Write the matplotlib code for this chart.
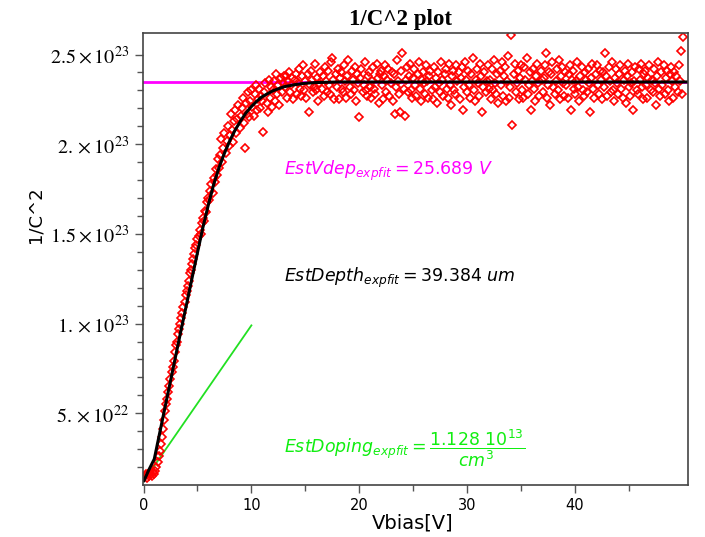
import matplotlib
matplotlib.use("Agg")
import matplotlib.pyplot as plt
import numpy as np

# bias sweep: first point and step (V)
bias_start = 0.1
bias_step = 0.1

# measured 1/C^2, in units of 1e22, ten points per volt
inv_c2 = [
    1.5, 1.6, 1.4, 1.6, 1.5, 1.7, 1.6, 1.5, 1.7, 1.6,
    1.8, 2.0, 2.3, 2.6, 2.9, 3.3, 3.7, 4.1, 4.6, 5.1,
    5.5, 5.8, 6.2, 6.5, 6.9, 7.3, 7.6, 7.9, 8.4, 8.8,
    9.0, 9.4, 9.7, 10.0, 10.3, 10.6, 10.9, 11.2, 11.6, 11.8,
    12.1, 12.4, 12.8, 13.0, 13.3, 13.6, 13.9, 14.2, 14.4, 14.7,
    14.9, 15.2, 15.0, 15.6, 15.9, 15.7, 16.3, 16.2, 16.8, 17.0,
    16.9, 17.4, 17.8, 17.3, 18.1, 17.9, 18.6, 18.3, 19.2, 18.7,
    19.4, 20.3, 19.0, 19.8, 20.6, 19.5, 20.2, 21.0, 19.9, 20.5,
    21.7, 20.8, 20.1, 21.3, 21.9, 20.6, 21.4, 22.2, 20.9, 21.6,
    22.0, 22.6, 21.2, 19.8, 22.3, 21.7, 22.9, 21.5, 22.4, 23.0,
    22.1, 21.6, 22.8, 23.3, 21.9, 22.5, 23.1, 22.0, 22.7, 22.4,
    20.7, 22.9, 23.4, 22.3, 21.8, 23.6, 22.6, 23.2, 22.1, 23.0,
    23.5, 22.4, 23.9, 22.8, 23.3, 22.2, 23.7, 22.9, 23.4, 23.8,
    23.2, 23.8, 22.6, 23.5, 24.0, 22.9, 23.3, 23.7, 22.5, 23.6,
    23.9, 22.8, 23.4, 24.2, 23.1, 22.7, 23.8, 24.4, 23.0, 23.5,
    22.6, 23.9, 21.8, 23.3, 24.1, 23.6, 22.9, 23.2, 24.5, 23.0,
    23.7, 22.4, 23.4, 24.0, 23.1, 23.8, 22.7, 24.3, 23.5, 22.9,
    24.1, 23.3, 22.8, 24.6, 24.8, 23.6, 22.5, 23.9, 23.2, 24.2,
    22.5, 23.7, 24.0, 23.1, 22.9, 24.4, 23.5, 22.6, 23.8, 24.7,
    23.2, 22.8, 24.1, 23.6, 23.0, 24.3, 22.4, 23.9, 23.4, 21.5,
    23.7, 24.2, 22.9, 23.3, 24.6, 23.0, 22.7, 23.8, 24.0, 23.2,
    22.6, 23.5, 24.3, 23.1, 22.8, 24.5, 23.7, 22.3, 23.9, 24.1,
    23.3, 22.5, 23.8, 24.4, 22.9, 23.6, 24.2, 22.7, 23.4, 24.0,
    22.4, 23.9, 21.7, 23.2, 24.7, 23.5, 22.8, 21.8, 24.1, 25.1,
    23.1, 21.6, 23.6, 24.3, 22.9, 23.8, 24.5, 23.0, 22.6, 23.7,
    24.2, 23.3, 22.7, 23.9, 24.6, 23.1, 22.4, 23.6, 24.0, 23.4,
    22.8, 24.4, 23.5, 22.6, 23.8, 24.1, 23.0, 22.5, 24.3, 23.2,
    23.7, 22.3, 24.0, 23.4, 22.9, 24.6, 23.6, 22.7, 23.9, 24.2,
    23.1, 22.6, 24.5, 23.3, 22.2, 23.8, 24.1, 23.0, 22.8, 24.4,
    23.5, 24.0, 22.5, 23.7, 24.3, 21.9, 23.2, 24.6, 23.6, 22.9,
    24.1, 23.3, 22.6, 23.9, 24.8, 23.0, 22.4, 23.6, 24.2, 23.4,
    22.7, 24.5, 23.8, 21.8, 23.2, 24.0, 22.9, 23.5, 24.4, 23.1,
    23.6, 22.5, 24.2, 23.0, 24.7, 23.4, 22.8, 23.9, 22.3, 24.1,
    23.3, 24.6, 22.7, 23.8, 24.3, 22.4, 23.5, 24.9, 22.6, 23.2,
    26.1, 21.1, 23.9, 24.5, 22.9, 23.4, 24.1, 22.5, 23.7, 24.4,
    23.0, 22.6, 24.3, 23.6, 24.8, 22.8, 23.3, 24.0, 21.9, 23.5,
    24.2, 23.1, 22.4, 23.8, 24.5, 23.4, 22.7, 24.1, 23.6, 22.9,
    23.7, 24.4, 25.1, 22.6, 23.3, 24.0, 22.2, 23.9, 24.6, 23.2,
    22.8, 23.5, 24.2, 23.0, 24.7, 22.5, 23.8, 24.3, 23.4, 22.7,
    24.0, 23.3, 22.6, 23.9, 24.4, 21.9, 23.6, 24.1, 23.1, 22.8,
    23.5, 24.6, 23.2, 22.4, 23.8, 24.3, 23.0, 22.7, 24.0, 23.6,
    22.9, 24.2, 23.4, 21.8, 23.7, 24.5, 23.1, 22.6, 23.9, 24.4,
    23.3, 22.8, 24.1, 23.6, 22.5, 24.0, 23.2, 25.1, 23.8, 22.7,
    24.3, 23.5, 22.9, 24.6, 23.0, 22.4, 23.7, 24.2, 23.4, 22.8,
    23.9, 24.4, 23.1, 22.6, 23.6, 24.1, 22.3, 23.8, 24.5, 23.2,
    22.7, 23.4, 24.0, 21.9, 23.5, 24.3, 23.0, 22.8, 24.2, 23.6,
    24.5, 23.2, 22.5, 23.9, 24.1, 23.3, 22.6, 23.7, 24.4, 23.0,
    23.6, 22.9, 24.2, 23.4, 22.2, 23.8, 24.6, 23.1, 22.7, 24.0,
    23.3, 24.4, 22.8, 23.7, 24.1, 23.0, 22.4, 23.9, 24.3, 23.5,
    22.6, 24.0, 23.2, 23.8, 22.9, 24.4, 23.5, 25.2, 22.8, 26.0,
]

# fitted curve (expfit), same units
fit_v = [0.05, 0.5, 1.0, 1.5, 2.0, 2.5, 3.0, 3.5, 4.0, 4.5, 5.0, 5.5, 6.0,
         6.5, 7.0, 7.5, 8.0, 8.5, 9.0, 9.5, 10.0, 10.5, 11.0, 12.0, 13.0,
         14.0, 15.0, 16.0, 18.0, 20.0, 30.0, 40.0, 50.4]
fit_y = [1.25, 1.85, 2.45, 3.9, 5.35, 6.8, 8.25, 9.7, 11.1, 12.55, 13.95,
         15.35, 16.6, 17.75, 18.7, 19.5, 20.2, 20.8, 21.3, 21.75, 22.1, 22.4,
         22.65, 22.98, 23.2, 23.32, 23.4, 23.44, 23.47, 23.47, 23.47, 23.47,
         23.47]

# doping slope line and depletion plateau
slope_v = [0.0, 10.0]
slope_y = [1.2, 9.9]
vdep_level = 23.47

yticks = [5e22, 1e23, 1.5e23, 2e23, 2.5e23]
ytick_labels = [r"$5.\times10^{22}$", r"$1.\times10^{23}$", r"$1.5\times10^{23}$",
                r"$2.\times10^{23}$", r"$2.5\times10^{23}$"]
xticks = [0, 10, 20, 30, 40]

scale = 1e22
vbias = np.round(bias_start + bias_step * np.arange(len(inv_c2)), 2)

fig = plt.figure(figsize=(7.05, 5.37), dpi=100)
ax = fig.add_axes([0.2028, 0.0968, 0.7728, 0.8417])

xmin, xmax = -0.05, 50.45
ax.plot([xmin, xmax], [vdep_level * scale] * 2, color="#ff00ff", lw=2)
ax.plot(slope_v, np.array(slope_y) * scale, color="#22e022", lw=1.3)
ax.plot(vbias, np.array(inv_c2) * scale, "D", mfc="none", mec="#ff0000",
        ms=4.2, mew=1.2)
ax.plot(fit_v, np.array(fit_y) * scale, color="black", lw=2.2)

ax.set_xlim(xmin, xmax)
ax.set_ylim(1.0e22, 2.62e23)

ax.set_xticks(xticks)
ax.set_xticks([5, 15, 25, 35, 45], minor=True)
ax.set_xticklabels([str(t) for t in xticks], fontsize=10.5, family="DejaVu Sans")
ax.set_yticks(yticks)
ax.set_yticks(np.arange(2e22, 2.6e23, 1e22), minor=True)
ax.set_yticklabels(ytick_labels, fontsize=14.5, math_fontfamily="stix")
ax.tick_params(which="major", direction="out", length=6, width=1, color="#555555")
ax.tick_params(which="minor", direction="out", length=4, width=1, color="#555555")
ax.tick_params(axis="x", pad=3)
ax.tick_params(axis="y", pad=4)
for s in ax.spines.values():
    s.set_color("#444444")
    s.set_linewidth(1.2)

fig.text(400 / 705, 1 - 19 / 537, "1/C^2 plot", ha="center", va="center",
         fontsize=16.5, fontweight="bold", family="Liberation Serif")
fig.text(36 / 705, 1 - 215 / 537, "1/C^2", rotation=90, ha="center",
         va="center", fontsize=13, family="DejaVu Sans")
fig.text(413 / 705, 1 - 523 / 537, "Vbias[V]", ha="center", va="center",
         fontsize=14, family="DejaVu Sans")

ax.text(13.0, 1.828e23, r"$\mathit{EstVdep}_{\mathit{expfit}} = \mathrm{25.689}\ \mathit{V}$",
        color="#ff00ff", fontsize=12.5, ha="left", va="baseline",
        math_fontfamily="dejavusans")
ax.text(13.0, 1.234e23, r"$\mathit{EstDepth}_{\mathit{expfit}} = \mathrm{39.384}\ \mathit{um}$",
        color="black", fontsize=12.5, ha="left", va="baseline",
        math_fontfamily="dejavusans")
ax.text(13.0, 0.279e23,
        r"$\mathit{EstDoping}_{\mathit{expfit}} = \dfrac{\mathrm{1.128\ 10^{13}}}{\mathit{cm}^{3}}$",
        color="#11ee11", fontsize=12.5, ha="left", va="baseline",
        math_fontfamily="dejavusans")

plt.savefig("out.png", dpi=100)
